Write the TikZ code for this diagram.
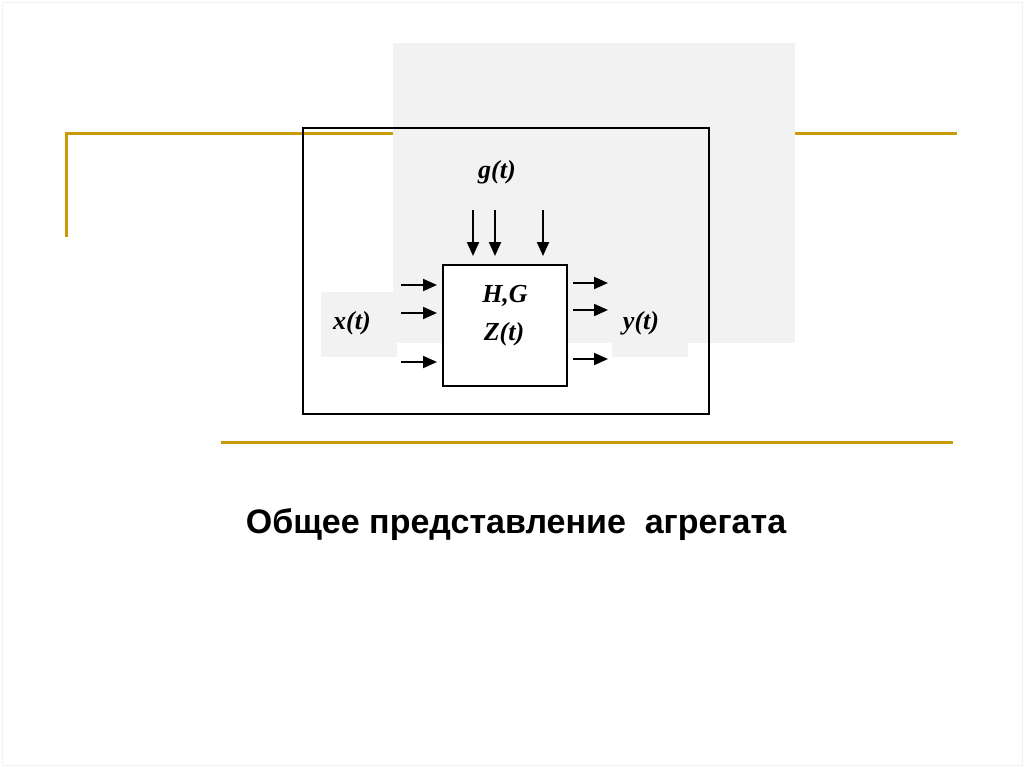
\documentclass[tikz,border=0pt]{standalone}
\usepackage{fontspec}
\setmainfont{Liberation Serif}
\setsansfont{Liberation Sans}
\usetikzlibrary{arrows.meta,positioning}
\definecolor{gold}{HTML}{CC9A06}
\definecolor{pane}{HTML}{F2F2F2}

\begin{document}
\begin{tikzpicture}[x=1pt, y=-1pt, >={Triangle[length=14pt,width=12pt]},
  lbl/.style={font=\fontsize{26}{30}\selectfont\bfseries\itshape, inner sep=0pt},
  patch/.style={fill=pane, minimum width=76pt, minimum height=65pt, inner sep=0pt},
  arr/.style={->, line width=2pt},
  rule/.style={gold, line width=3pt}]
\useasboundingbox (0,0) rectangle (1024,767);
\draw[black!6] (2,2) rectangle (1022,765);
% slide decoration
\draw[rule] (66,237) -- (66,134) -- (957,134);
\draw[rule] (221,442) -- (953,442);
\node[fill=pane, minimum width=402pt, minimum height=300pt, inner sep=0pt] (pane) at (594,193) {};
% frame and aggregate
\node[draw, line width=2pt, minimum width=406pt, minimum height=286pt, inner sep=0pt] (frame) at (506,271) {};
\node[patch] (xp) at (359,324.5) {};
\node[patch] (yp) at (650,324.5) {};
\node[draw, fill=white, line width=2pt, minimum width=124pt, minimum height=121pt, inner sep=0pt] (agg) at (505,325.5) {};
\node[lbl] (hg) at (505,296) {H,G};
\node[lbl] (zt) at (504,334) {Z(t)};
\node[lbl] (gt) at (497,172) {g(t)};
\node[lbl] (xt) at (352,323) {x(t)};
\node[lbl] (yt) at (641,323) {y(t)};
% inputs g(t)
\foreach \i/\x in {1/473,2/495,3/543}{
  \coordinate (g\i) at (\x,210);
  \draw[arr, shorten >=8pt] (g\i) -- (g\i |- agg.north);
}
% inputs x(t)
\foreach \i/\y in {1/285,2/313,3/362}{
  \coordinate (x\i) at (401,\y);
  \draw[arr, shorten >=5pt] (x\i) -- (x\i -| agg.west);
}
% outputs y(t)
\foreach \i/\y in {1/283,2/310,3/359}{
  \coordinate (y\i) at (608,\y);
  \draw[arr, shorten <=5pt] (y\i -| agg.east) -- (y\i);
}
\node[font=\sffamily\bfseries\fontsize{34}{40}\selectfont] (cap) at (516,525) {Общее представление \ агрегата};
\end{tikzpicture}
\end{document}
